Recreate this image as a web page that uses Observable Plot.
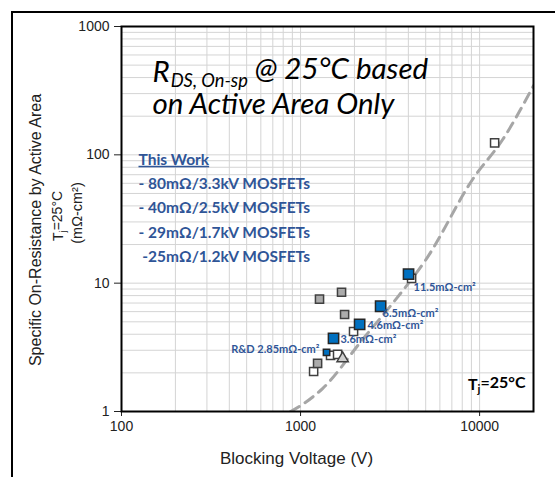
<!DOCTYPE html>
<html><head><meta charset="utf-8">
<script src="https://cdn.jsdelivr.net/npm/d3@7"></script>
<script src="https://cdn.jsdelivr.net/npm/@observablehq/plot@0.6"></script>
<style>
body{margin:0;background:#fff;}
#wrap{position:relative;width:555px;height:477px;overflow:hidden;background:#fff;}
#border{position:absolute;left:11px;top:11px;width:600px;height:600px;border-top:2px solid #000;border-left:2px solid #000;pointer-events:none;}
</style></head><body>
<div id="wrap"><div id="chart"></div><div id="border"></div></div>
<script>
// axis ticks
const xTicks = [100, 1000, 10000];
const yTicks = [1, 10, 100, 1000];

// this work (blue squares)
const thisWorkBig = [
  {v: 4010, r: 11.76},
  {v: 2800, r: 6.61},
  {v: 2138, r: 4.78},
  {v: 1528, r: 3.72}
];
const thisWorkRD = [{v: 1397, r: 2.89}];

// other reported devices
const openSquares = [
  {v: 1183, r: 2.05},
  {v: 1471, r: 2.74},
  {v: 1610, r: 2.79},
  {v: 1977, r: 4.2},
  {v: 4170, r: 10.9},
  {v: 12130, r: 124}
];
const graySquares = [
  {v: 1276, r: 7.5},
  {v: 1694, r: 8.5},
  {v: 1762, r: 5.7},
  {v: 1245, r: 2.37}
];
const triangles = [{v: 1718, r: 2.59}];

// theoretical limit (dashed)
const limitLine = [
  {v: 880, r: 1.0},
  {v: 1000, r: 1.11},
  {v: 1327, r: 1.51},
  {v: 2248, r: 3.72},
  {v: 3483, r: 7.78},
  {v: 4990, r: 15.1},
  {v: 9250, r: 66},
  {v: 13430, r: 131},
  {v: 20000, r: 346}
];

// point labels
const pointLabels = [
  {v: 4276, r: 9.31, t: "11.5mΩ-cm²"},
  {v: 2872, r: 5.83, t: "6.5mΩ-cm²"},
  {v: 2366, r: 4.70, t: "4.6mΩ-cm²"},
  {v: 1671, r: 3.65, t: "3.6mΩ-cm²"}
];
const rdLabel = [{v: 1276, r: 3.05, t: "R&D 2.85mΩ-cm²"}];

const workLines = [
  "This Work",
  "- 80mΩ/3.3kV MOSFETs",
  "- 40mΩ/2.5kV MOSFETs",
  "- 29mΩ/1.7kV MOSFETs",
  "\u00a0-25mΩ/1.2kV MOSFETs"
];

const titleLine1 = "RDS, On-sp @ 25°C based";
const titleLine2 = "on Active Area Only";
const yTitle = "Specific On-Resistance by Active Area";
const yTitle2 = "Tj=25°C";
const yTitle3 = "(mΩ-cm²)";
const xTitle = "Blocking Voltage (V)";
const tjLabel = "Tj=25°C ";

// minor grid values
const xGrid = [], yGrid = [];
for (let e = 2; e <= 4; e++) for (let m = 1; m <= 9; m++) { const v = m * 10 ** e; if (v <= 20000) xGrid.push(v); }
for (let e = 0; e <= 3; e++) for (let m = 1; m <= 9; m++) { const v = m * 10 ** e; if (v <= 1000) yGrid.push(v); }

const blue = "#0070C0";
const txtBlue = "#2F5597";
const cal = "Lato, 'Open Sans', sans-serif";

const chart = Plot.plot({
  width: 555, height: 477,
  marginLeft: 121, marginRight: 22, marginTop: 26, marginBottom: 66,
  x: {type: "log", domain: [100, 20000]},
  y: {type: "log", domain: [1, 1000]},
  style: {fontFamily: "'Liberation Sans', Arial, sans-serif", fontSize: "14px", background: "white", color: "#222"},
  marks: [
    Plot.gridX(xGrid, {stroke: "#d4d4d4", strokeOpacity: 1}),
    Plot.gridY(yGrid, {stroke: "#d4d4d4", strokeOpacity: 1}),
    Plot.axisX(xTicks, {tickFormat: d => String(d), label: null, tickSize: 5, tickPadding: 5, stroke: "#222"}),
    Plot.axisY(yTicks, {tickFormat: d => String(d), label: null, tickSize: 7, tickPadding: 5, stroke: "#222"}),
    Plot.line(limitLine, {x: "v", y: "r", stroke: "#a6a6a6", strokeWidth: 3, strokeDasharray: "10,7", curve: "monotone-x", clip: true}),
    Plot.dot(openSquares, {x: "v", y: "r", symbol: "square", r: 4.6, fill: "white", stroke: "#404040", strokeWidth: 1.5}),
    Plot.dot(graySquares, {x: "v", y: "r", symbol: "square", r: 4.6, fill: "#ababab", stroke: "#404040", strokeWidth: 1.5}),
    Plot.dot(triangles, {x: "v", y: "r", symbol: "triangle", r: 4.2, fill: "#d0d0d0", stroke: "#404040", strokeWidth: 1.5}),
    Plot.dot(thisWorkBig, {x: "v", y: "r", symbol: "square", r: 5.8, fill: blue, stroke: "#262626", strokeWidth: 1.5}),
    Plot.dot(thisWorkRD, {x: "v", y: "r", symbol: "square", r: 3.6, fill: blue, stroke: "#262626", strokeWidth: 1.5}),
    Plot.text(pointLabels, {x: "v", y: "r", text: "t", textAnchor: "start", fill: txtBlue, fontWeight: "bold", fontSize: 11, fontFamily: cal}),
    Plot.text(rdLabel, {x: "v", y: "r", text: "t", textAnchor: "end", fill: txtBlue, fontWeight: "bold", fontSize: 11, fontFamily: cal}),
    Plot.text([titleLine1], {frameAnchor: "top-left", dx: 31, dy: 46, textAnchor: "start", lineAnchor: "middle", fontSize: 29.5, fontStyle: "italic", fontFamily: cal, fill: "black"}),
    Plot.text([titleLine2], {frameAnchor: "top-left", dx: 31, dy: 78, textAnchor: "start", lineAnchor: "middle", fontSize: 29.5, fontStyle: "italic", fontFamily: cal, fill: "black"}),
    Plot.text([workLines.join("\n")], {frameAnchor: "top-left", dx: 17, dy: 121, textAnchor: "start", lineAnchor: "top", lineHeight: 1.57, fontSize: 15.5, fontWeight: "bold", fontFamily: cal, fill: txtBlue}),
    Plot.text([tjLabel], {frameAnchor: "bottom-right", dx: -8, dy: -27, textAnchor: "end", lineAnchor: "middle", fontSize: 16, fontWeight: "bold", fontFamily: cal, fill: "black"}),
    Plot.text([yTitle], {frameAnchor: "left", textAnchor: "middle", dx: -86, dy: 11, rotate: -90, fontSize: 16, fill: "#222"}),
    Plot.text([yTitle2], {frameAnchor: "left", textAnchor: "middle", dx: -63, dy: -3, rotate: -90, fontSize: 14, fill: "#222"}),
    Plot.text([yTitle3], {frameAnchor: "left", textAnchor: "middle", dx: -44, dy: -6, rotate: -90, fontSize: 14.5, fill: "#222"}),
    Plot.text([xTitle], {frameAnchor: "bottom", dx: -31, dy: 52, fontSize: 17, fill: "#222"}),
    Plot.frame({stroke: "black", strokeWidth: 2})
  ]
});
document.getElementById("chart").append(chart);

// rich-text post-processing: subscripts and underline
const svg = d3.select(chart);
svg.selectAll("text").each(function() {
  const el = d3.select(this);
  const s = this.textContent;
  if (s === titleLine1) {
    el.text("");
    el.append("tspan").text("R");
    el.append("tspan").attr("font-size", "0.62em").attr("dx", "1").attr("dy", "0.25em").text("DS, On-sp");
    el.append("tspan").attr("dy", "-0.25em").text(" @ 25°C based");
  } else if (s === tjLabel || s === yTitle2) {
    el.text("");
    el.append("tspan").text("T");
    el.append("tspan").attr("font-size", "0.7em").attr("dy", "0.3em").text("j");
    el.append("tspan").attr("dy", "-0.3em").text("=25°C");
  }
});
svg.selectAll("tspan").filter(function(){ return this.textContent === "This Work"; })
  .style("text-decoration", "underline");
</script>
</body></html>
